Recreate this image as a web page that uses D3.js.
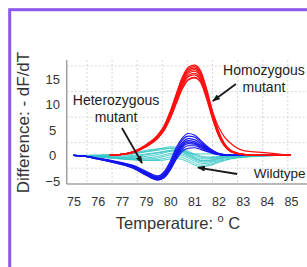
<!DOCTYPE html>
<html>
<head>
<meta charset="utf-8">
<script src="https://cdn.jsdelivr.net/npm/d3@7"></script>
<style>
  body { margin: 0; background: #fff; }
  svg { display: block; font-family: "Liberation Sans", Arial, Helvetica, sans-serif; }
</style>
</head>
<body>
<svg id="chart" width="307" height="267"></svg>
<script>
// tick labels as printed on the figure (78 is missing on the original)
const xTickLabels = [75, 76, 77, 79, 80, 81, 82, 83, 84, 85];
const yTickValues = [-5, 0, 5, 10, 15];
const yGridValues = [-2.5, 2.5, 7.5, 12.5, 17.5];

// temperature samples shared by every melt curve
const temps = [75, 75.5, 76, 76.5, 77, 78, 79, 79.5, 79.75, 80, 80.25, 80.5, 80.75,
  81, 81.25, 81.5, 81.75, 82, 82.25, 82.5, 83, 83.5, 84, 84.5, 85];

// homozygous mutant (red)
const homozygous = [
  [null, null, null, 0, 0.2, 0.8, 2.1, 4.1, 5.8, 8.6, 12.0, 15.3, 17.3, 17.7, 16.7, 13.2, 8.7, 4.8, 2.3, 1.0, 0.25, 0.05, 0, 0, 0],
  [null, null, null, 0, 0.2, 0.8, 2.0, 4.0, 5.7, 8.4, 11.8, 15.0, 17.0, 17.4, 16.4, 12.9, 8.4, 4.6, 2.2, 1.0, 0.2, 0.05, 0, 0, 0],
  [null, null, null, 0, 0.2, 0.7, 2.0, 3.9, 5.6, 8.3, 11.6, 14.8, 16.7, 17.1, 16.1, 12.6, 8.2, 4.5, 2.1, 0.9, 0.2, 0.05, 0, 0, 0],
  [null, null, null, 0, 0.2, 0.7, 1.9, 3.9, 5.5, 8.1, 11.4, 14.5, 16.4, 16.8, 15.8, 12.4, 8.0, 4.4, 2.0, 0.9, 0.2, 0.05, 0, 0, 0],
  [null, null, null, 0, 0.2, 0.7, 1.9, 3.8, 5.4, 8.0, 11.2, 14.2, 16.1, 16.5, 15.5, 12.1, 7.8, 4.2, 2.0, 0.9, 0.2, 0.05, 0, 0, 0],
  [null, null, null, 0, 0.2, 0.7, 1.8, 3.7, 5.3, 7.8, 10.9, 13.9, 15.7, 16.1, 15.1, 11.8, 7.6, 4.1, 1.9, 0.8, 0.2, 0.05, 0, 0, 0],
  [null, null, null, 0, 0.2, 0.7, 1.8, 3.6, 5.2, 7.6, 10.7, 13.6, 15.4, 15.8, 14.8, 11.5, 7.4, 4.0, 1.9, 0.8, 0.2, 0.05, 0, 0, 0],
  [null, null, null, 0, 0.2, 0.6, 1.7, 3.5, 5.0, 7.4, 10.3, 13.2, 14.9, 15.3, 14.4, 11.2, 7.2, 3.9, 1.8, 0.8, 0.2, 0.05, 0, 0, 0],
  [null, null, null, 0, 0.2, 0.6, 1.7, 3.4, 4.9, 7.2, 10.1, 13.0, 14.8, 15.2, 14.5, 11.9, 8.6, 5.6, 3.6, 2.4, 1.0, 0.7, 0.5, 0.25, 0]
];

// heterozygous mutant (blue)
const heterozygous = [
  [0, -0.2, -0.5, -0.9, -1.4, -2.0, -3.1, -4.0, -3.2, -1.2, 1.5, 3.4, 4.3, 4.0, 3.0, 1.9, 1.0, 0.4, 0.15, 0.05, 0, 0, 0, 0, 0],
  [0, -0.2, -0.6, -1.0, -1.5, -2.1, -3.3, -4.2, -3.5, -1.6, 1.0, 3.0, 3.8, 3.6, 2.7, 1.7, 0.9, 0.35, 0.1, 0.05, 0, 0, 0, 0, 0],
  [0, -0.2, -0.6, -1.0, -1.5, -2.2, -3.4, -4.4, -3.7, -1.9, 0.6, 2.5, 3.3, 3.1, 2.4, 1.5, 0.8, 0.3, 0.1, 0, 0, 0, 0, 0, 0],
  [0, -0.2, -0.6, -1.1, -1.6, -2.3, -3.5, -4.4, -3.8, -2.1, 0.3, 2.2, 2.9, 2.7, 2.1, 1.3, 0.7, 0.3, 0.1, 0, 0, 0, 0, 0, 0],
  [0, -0.2, -0.6, -1.1, -1.6, -2.3, -3.6, -4.6, -4.0, -2.3, 0.1, 1.9, 2.6, 2.4, 1.9, 1.2, 0.6, 0.25, 0.1, 0, 0, 0, 0, 0, 0],
  [0, -0.2, -0.7, -1.1, -1.7, -2.4, -3.7, -4.7, -4.1, -2.5, -0.2, 1.6, 2.3, 2.2, 1.7, 1.1, 0.6, 0.2, 0.05, 0, 0, 0, 0, 0, 0],
  [0, -0.2, -0.7, -1.2, -1.7, -2.5, -3.8, -4.8, -4.3, -2.7, -0.5, 1.2, 1.9, 1.9, 1.5, 1.0, 0.5, 0.2, 0.05, 0, 0, 0, 0, 0, 0],
  [0, -0.2, -0.7, -1.2, -1.8, -2.6, -3.9, -4.8, -4.4, -2.9, -0.8, 0.8, 1.4, 1.5, 1.2, 0.8, 0.4, 0.15, 0.05, 0, 0, 0, 0, 0, 0]
];

// wildtype (cyan)
const wildtype = [
  [0, 0, 0.05, 0.1, 0.2, 0.4, 0.8, 1.2, 1.5, 1.7, 1.6, 1.3, 0.8, 0.3, -0.1, -0.3, -0.3, -0.2, -0.1, -0.1, 0, 0, 0, 0, 0],
  [0, 0, 0, 0.05, 0.1, 0.3, 0.7, 1.0, 1.2, 1.4, 1.5, 1.2, 0.6, 0.1, -0.3, -0.5, -0.4, -0.3, -0.2, -0.1, -0.05, 0, 0, 0, 0],
  [0, -0.05, -0.1, -0.1, -0.1, 0, 0.3, 0.6, 0.8, 1.0, 1.1, 0.9, 0.4, -0.2, -0.6, -0.7, -0.6, -0.4, -0.3, -0.2, -0.1, -0.05, 0, 0, 0],
  [0, -0.1, -0.2, -0.3, -0.4, -0.4, -0.2, 0.2, 0.5, 0.8, 0.9, 0.7, 0.2, -0.4, -0.9, -1.0, -0.8, -0.6, -0.4, -0.3, -0.2, -0.1, -0.05, 0, 0],
  [0, -0.1, -0.2, -0.4, -0.5, -0.6, -0.5, -0.2, 0.1, 0.4, 0.5, 0.3, -0.2, -0.8, -1.2, -1.3, -1.1, -0.8, -0.5, -0.3, -0.2, -0.1, -0.05, 0, 0],
  [0, -0.1, -0.3, -0.4, -0.6, -0.7, -0.7, -0.5, -0.2, 0.1, 0.2, 0.0, -0.5, -1.1, -1.5, -1.6, -1.3, -1.0, -0.7, -0.5, -0.3, -0.15, -0.05, 0, 0],
  [0, -0.1, -0.3, -0.5, -0.7, -0.8, -0.9, -0.8, -0.6, -0.3, -0.2, -0.4, -0.9, -1.5, -1.9, -1.9, -1.6, -1.2, -0.9, -0.6, -0.3, -0.15, -0.05, 0, 0],
  [0, -0.1, -0.3, -0.5, -0.7, -0.9, -1.0, -1.0, -0.9, -0.7, -0.6, -0.8, -1.3, -1.9, -2.2, -2.1, -1.8, -1.4, -1.0, -0.7, -0.4, -0.2, -0.1, 0, 0],
  [0, 0, 0.05, 0.1, 0.2, 0.5, 1.0, 1.3, 1.4, 1.4, 1.2, 0.9, 0.5, 0.3, 0.3, 0.3, 0.3, 0.25, 0.2, 0.15, 0.1, 0.05, 0, 0, 0],
  [0, -0.05, -0.1, -0.2, -0.3, -0.2, 0.1, 0.5, 0.7, 0.9, 0.9, 0.6, 0.0, -0.6, -1.0, -1.1, -0.9, -0.6, -0.4, -0.2, -0.1, -0.05, 0, 0, 0]
];

// annotations, in data units
const annotations = [
  { lines: ['Heterozygous', 'mutant'], x: 76.76, y: 9.9, anchor: 'middle', size: 14, from: [77.01, 5.37], to: [78.67, -1.49] },
  { lines: ['Homozygous', 'mutant'], x: 83.88, y: 15.85, anchor: 'middle', size: 14, from: [82.72, 14.0], to: [81.77, 10.66] },
  { lines: ['Wildtype'], x: 83.46, y: -4.43, anchor: 'start', size: 13.5, from: [82.77, -3.64], to: [81.15, -2.37] }
];

const svg = d3.select('#chart');
const plotLeft = 66.7;
const plotTop = 60;
const plotBottom = 184;
const plotRight = 307;

// frame round the figure
svg.append('rect')
  .attr('x', 9.7).attr('y', 9.7)
  .attr('width', 400).attr('height', 400)
  .attr('fill', 'none')
  .attr('stroke', '#8c57ee')
  .attr('stroke-width', 3);

const labelFirst = 73.5;
const labelLast = 291;
const x = d3.scaleLinear()
  .domain(xTickLabels)
  .range(xTickLabels.map((d, i) => labelFirst + (i * (labelLast - labelFirst)) / (xTickLabels.length - 1)));

const y = d3.scaleLinear()
  .domain([-5.6, 18.7])
  .range([plotBottom, plotTop]);

// dotted grid
const gridX = d3.range(9).map(k => 87 + (k * 25.1));
svg.append('g')
  .selectAll('line')
  .data(gridX)
  .join('line')
  .attr('x1', d => d).attr('x2', d => d)
  .attr('y1', plotTop).attr('y2', plotBottom)
  .attr('stroke', '#d6d6d6')
  .attr('stroke-dasharray', '2,2');

svg.append('g')
  .selectAll('line')
  .data(yGridValues)
  .join('line')
  .attr('x1', plotLeft).attr('x2', plotRight)
  .attr('y1', d => y(d)).attr('y2', d => y(d))
  .attr('stroke', '#d6d6d6')
  .attr('stroke-dasharray', '2,2');

// axis lines
svg.append('line')
  .attr('x1', plotLeft).attr('x2', plotLeft)
  .attr('y1', plotTop).attr('y2', plotBottom)
  .attr('stroke', '#a0a0a0').attr('stroke-width', 1.5);
svg.append('line')
  .attr('x1', plotLeft).attr('x2', plotRight)
  .attr('y1', plotBottom).attr('y2', plotBottom)
  .attr('stroke', '#a0a0a0').attr('stroke-width', 1.5);

// tick labels
const xAxis = svg.append('g')
  .attr('transform', `translate(0,${plotBottom})`)
  .call(d3.axisBottom(x).tickValues(xTickLabels).tickSize(0).tickPadding(13).tickFormat(d => d));
xAxis.select('.domain').remove();
xAxis.selectAll('text')
  .attr('font-size', 12.5)
  .attr('fill', '#333')
  .attr('font-family', null);

const yAxis = svg.append('g')
  .attr('transform', `translate(${plotLeft},0)`)
  .call(d3.axisLeft(y).tickValues(yTickValues).tickSize(0));
yAxis.select('.domain').remove();
yAxis.selectAll('text')
  .attr('x', -14)
  .attr('text-anchor', 'middle')
  .attr('font-size', 13)
  .attr('fill', '#333')
  .attr('font-family', null);

// axis titles
const xTitle = svg.append('text')
  .attr('x', 178)
  .attr('y', 229)
  .attr('text-anchor', 'middle')
  .attr('font-size', 16.5)
  .attr('fill', '#333');
xTitle.append('tspan').text('Temperature: ');
xTitle.append('tspan').attr('font-size', 11).attr('dy', -7).text('o');
xTitle.append('tspan').attr('dy', 7).text(' C');

svg.append('text')
  .attr('transform', 'translate(29,122.5) rotate(-90)')
  .attr('text-anchor', 'middle')
  .attr('font-size', 17)
  .attr('fill', '#333')
  .text('Difference: - dF/dT');

// melt curves
const line = d3.line()
  .defined(d => d[1] !== null)
  .x(d => x(d[0]))
  .y(d => y(d[1]))
  .curve(d3.curveMonotoneX);

const drawGroup = (series, color, width, opacity) => {
  svg.append('g')
    .selectAll('path')
    .data(series)
    .join('path')
    .attr('d', s => line(s.map((v, i) => [temps[i], v])))
    .attr('fill', 'none')
    .attr('stroke', color)
    .attr('stroke-width', width)
    .attr('stroke-opacity', opacity);
};

drawGroup(wildtype, '#35c6c6', 1, 0.9);
drawGroup(heterozygous, '#1515ee', 1.2, 1);
drawGroup(homozygous, '#ff1010', 1.2, 1);

// annotation text and arrows
svg.append('defs').append('marker')
  .attr('id', 'head')
  .attr('viewBox', '0 0 8 6')
  .attr('refX', 7).attr('refY', 3)
  .attr('markerWidth', 8).attr('markerHeight', 6)
  .attr('markerUnits', 'userSpaceOnUse')
  .attr('orient', 'auto')
  .append('path')
  .attr('d', 'M0,0L8,3L0,6Z')
  .attr('fill', '#1a1a1a');

const notes = svg.append('g');
annotations.forEach(a => {
  notes.append('line')
    .attr('x1', x(a.from[0])).attr('y1', y(a.from[1]))
    .attr('x2', x(a.to[0])).attr('y2', y(a.to[1]))
    .attr('stroke', '#1a1a1a')
    .attr('stroke-width', 1.8)
    .attr('marker-end', 'url(#head)');
  const t = notes.append('text')
    .attr('x', x(a.x))
    .attr('y', y(a.y))
    .attr('text-anchor', a.anchor)
    .attr('font-size', a.size)
    .attr('fill', '#222');
  a.lines.forEach((l, i) => {
    t.append('tspan')
      .attr('x', x(a.x))
      .attr('dy', i === 0 ? 0 : 17)
      .text(l);
  });
});
</script>
</body>
</html>
